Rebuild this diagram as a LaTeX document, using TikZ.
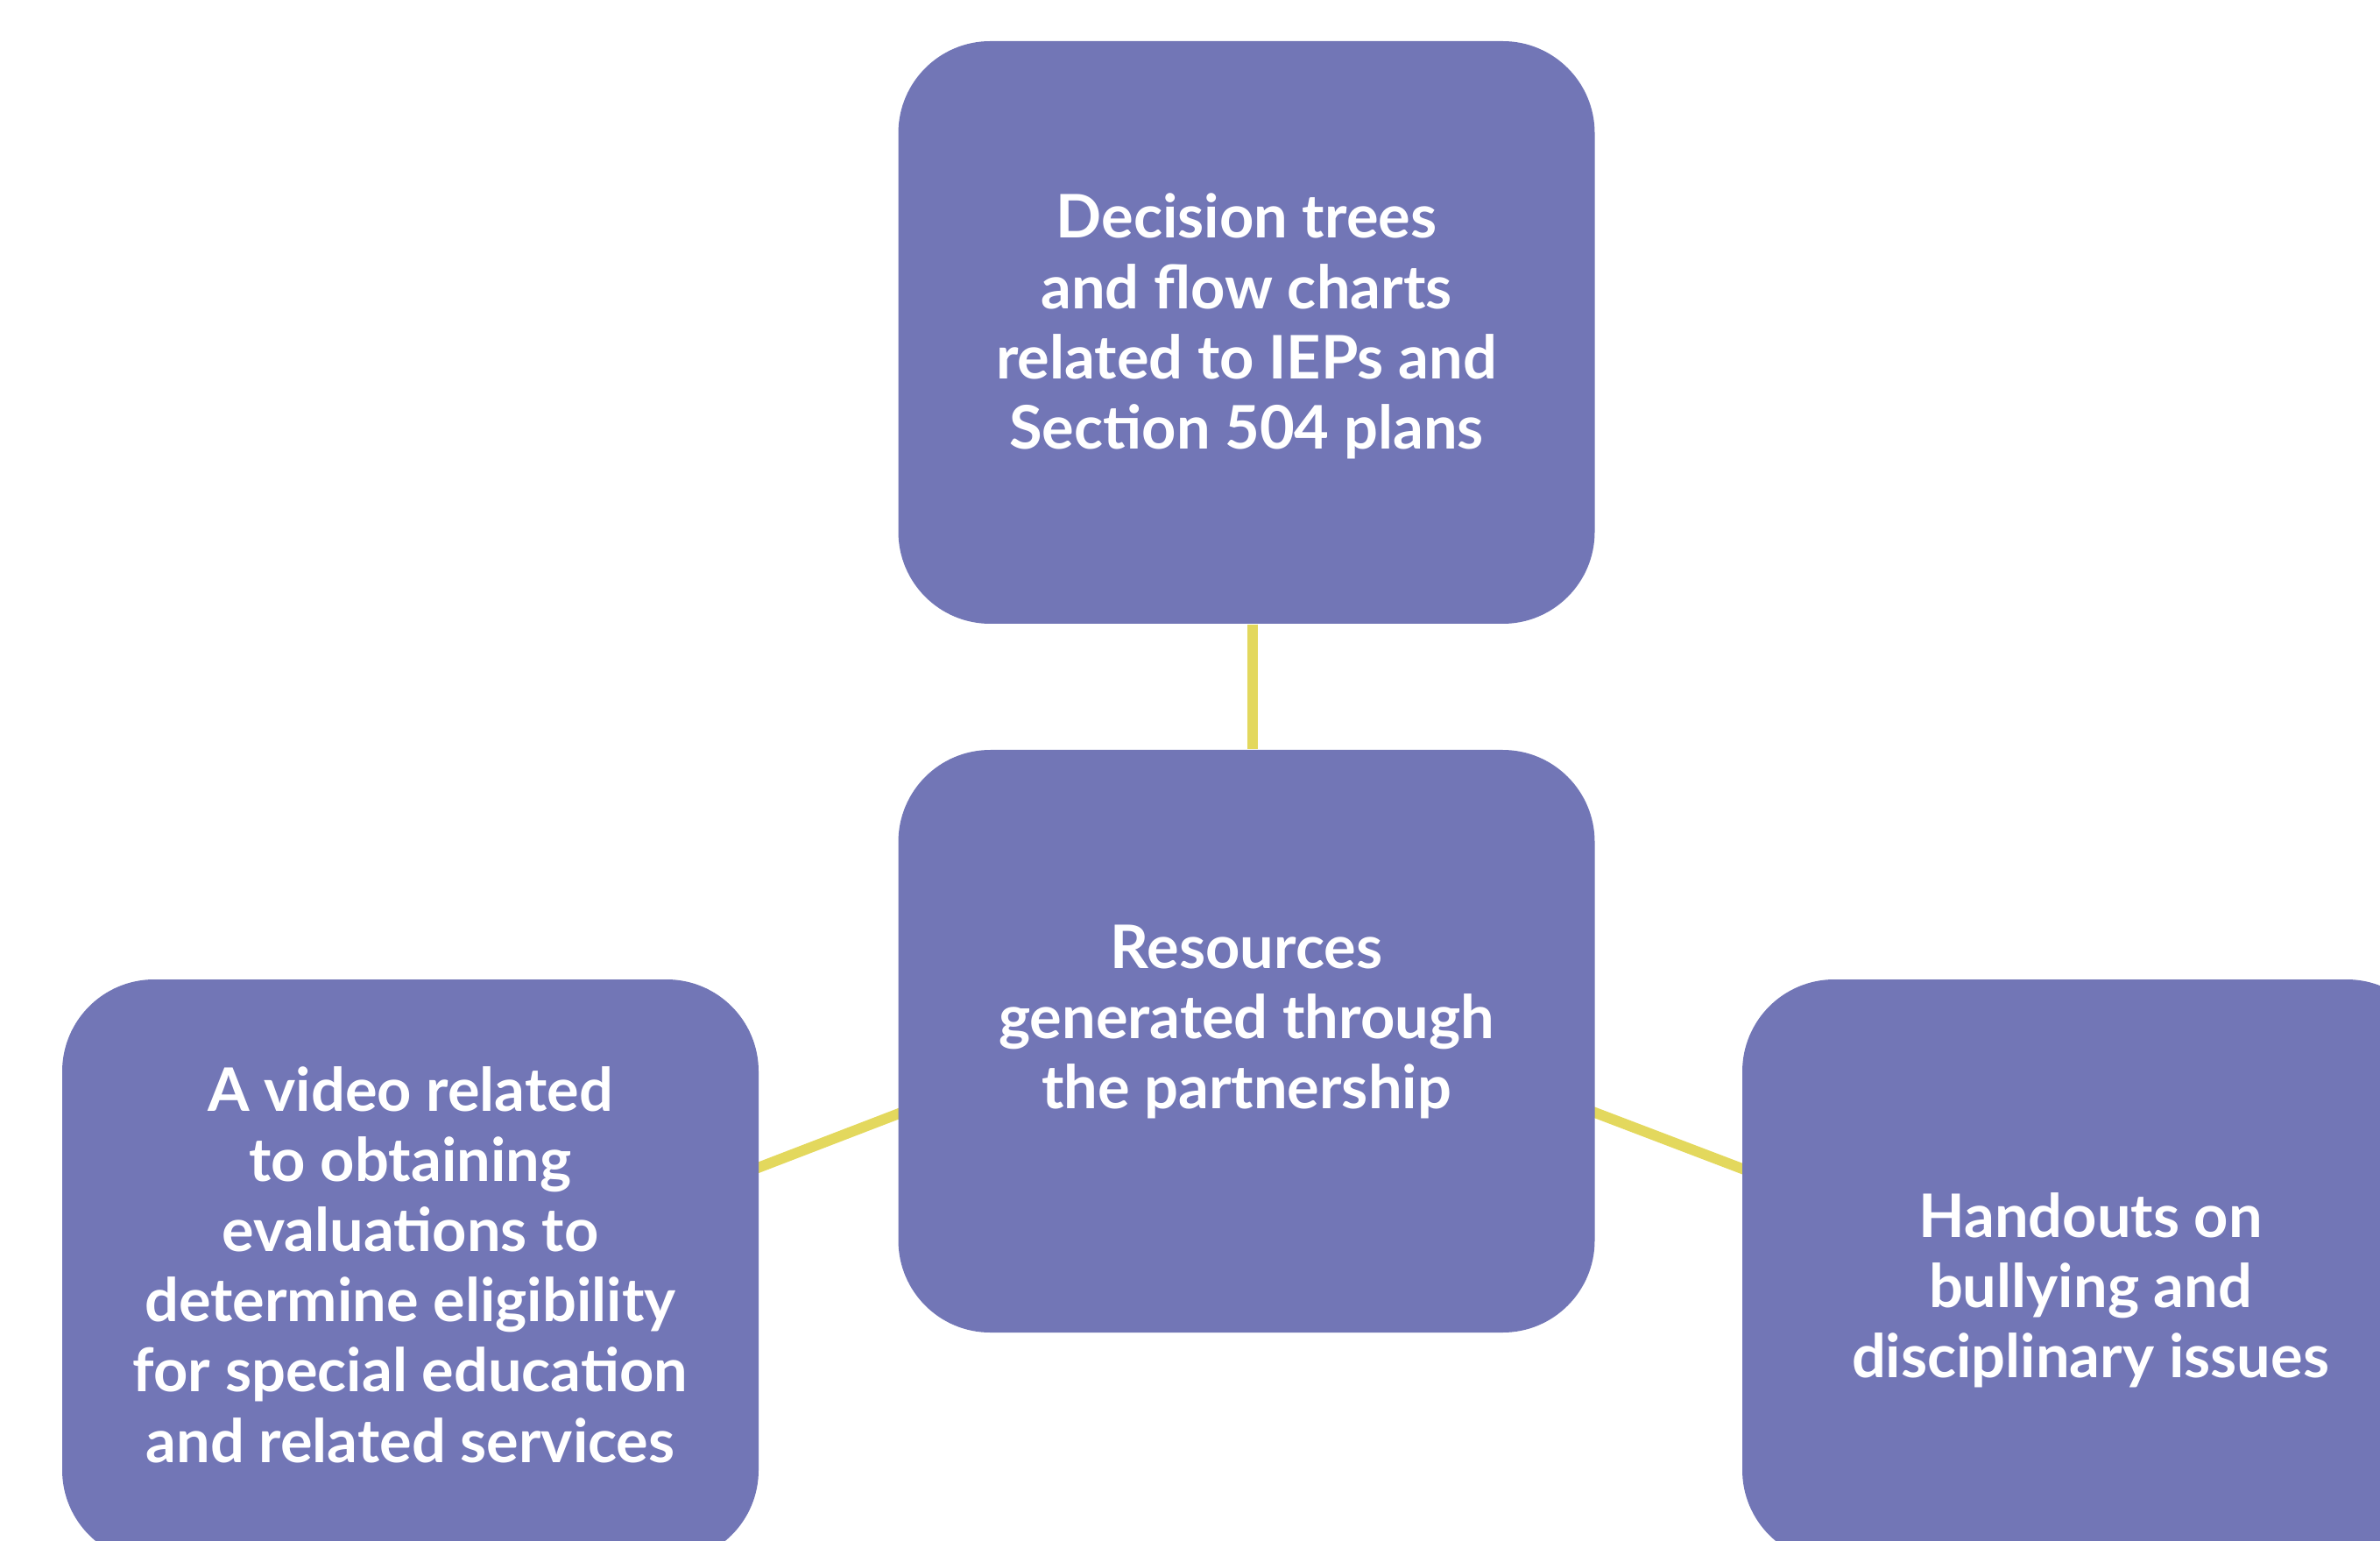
\documentclass[tikz,border=0pt]{standalone}
\usepackage{fontspec}
\setmainfont{Lato}
\usetikzlibrary{backgrounds}
\definecolor{boxblue}{RGB}{114,118,182}
\definecolor{linkyellow}{RGB}{227,216,93}
\tikzset{
  box/.style = {rectangle, rounded corners=1.05cm, fill=boxblue,
    minimum width=7.95cm, minimum height=6.65cm},
  txt/.style = {text=white, align=center,
    font=\fontsize{19.5}{22.8}\selectfont\bfseries},
  link/.style = {draw=linkyellow, line width=3.4pt}
}

\begin{document}
\begin{tikzpicture}

  \useasboundingbox (0,0) rectangle (27.17,-17.59);

  \node[box] (t) at (14.23,-3.795) {};
  \node[box] (c) at (14.23,-11.885) {};
  \node[box] (l) at (4.685,-14.505) {};
  \node[box] (r) at (23.865,-14.505) {};

  \node[txt] (tt) at ([yshift=0.07cm]t.center) {Decision trees\\and flow charts\\related to IEPs and\\Section 504 plans};
  \node[txt] (ct) at ([yshift=0.22cm]c.center) {Resources\\generated through\\the partnership};
  \node[txt] (lt) at ([yshift=0.07cm]l.center) {A video related\\to obtaining\\evaluations to\\determine eligibility\\for special education\\and related services};
  \node[txt] (rt) at ([yshift=-0.22cm]r.center) {Handouts on\\bullying and\\disciplinary issues};

  \begin{pgfonlayer}{background}
    \draw[link] ([xshift=0.07cm]t.south) -- ([xshift=0.07cm]c.north);
    \draw[link] ([yshift=7mm]c.center) -- ([yshift=-3.5mm]l.center);
    \draw[link] ([yshift=7mm]c.center) -- ([yshift=-3.5mm]r.center);
  \end{pgfonlayer}
\end{tikzpicture}
\end{document}
